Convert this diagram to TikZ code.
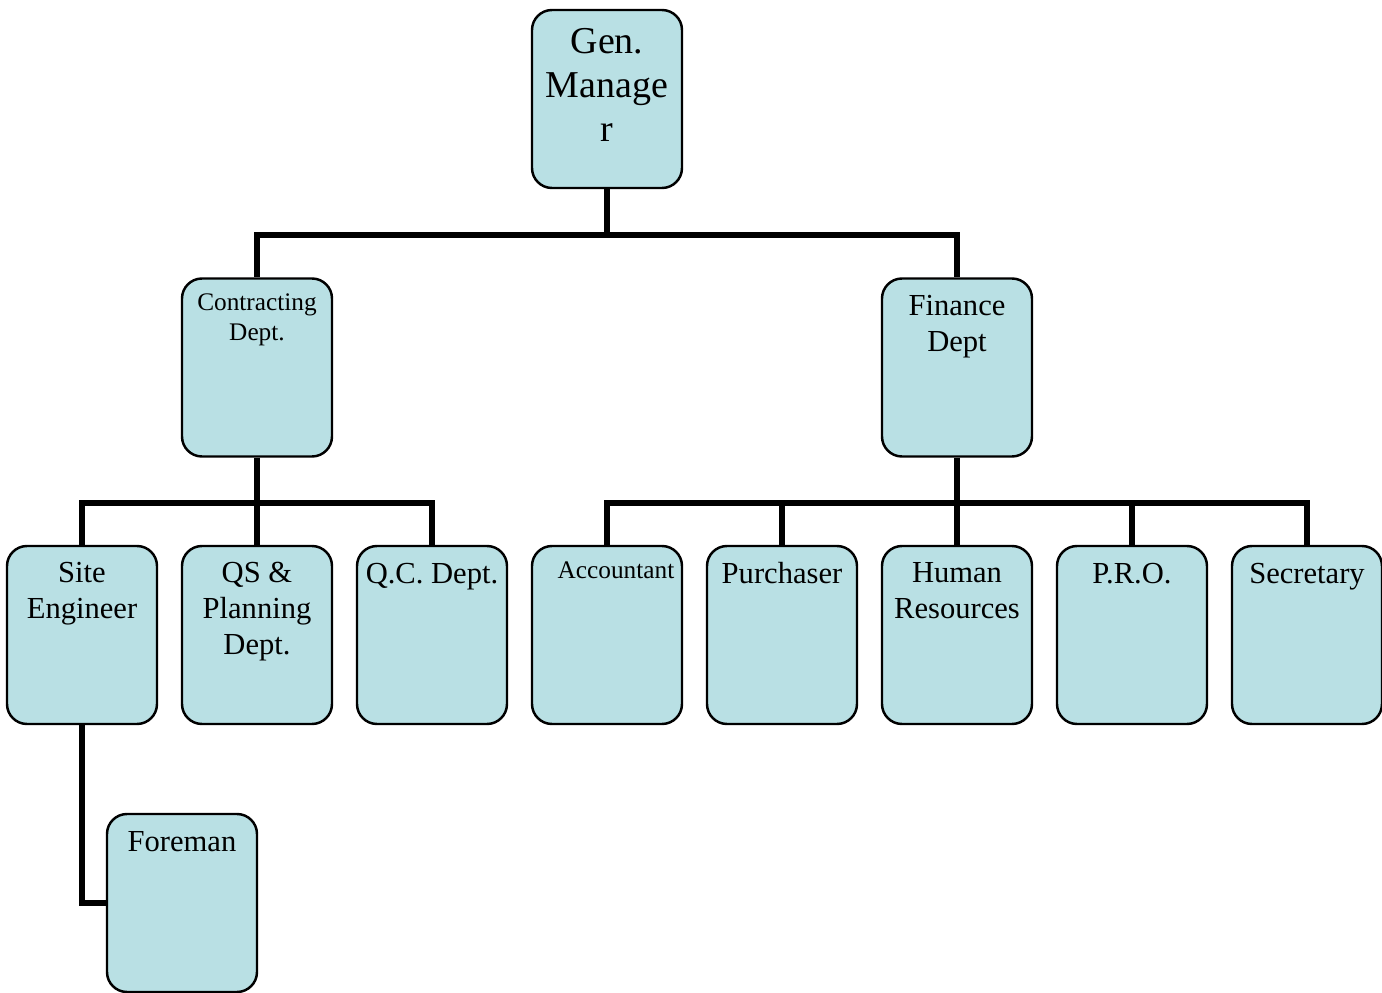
\documentclass[tikz,border=0pt]{standalone}
\usepackage{fontspec}
\setmainfont{Liberation Serif}
\usetikzlibrary{calc}

\definecolor{boxfill}{RGB}{185,224,228}

\begin{document}
\begin{tikzpicture}[
    unit/.style={draw,fill=boxfill,line width=0.7pt,rounded corners=2mm,
                 minimum width=1.5cm,minimum height=1.78cm,inner sep=0pt},
    caption/.style={anchor=north,align=center,inner sep=0pt},
    link/.style={line width=1.7pt},
    bigfont/.style={font=\fontsize{10.8}{12.5}\selectfont},
    midfont/.style={font=\fontsize{8.7}{10.2}\selectfont},
    smallfont/.style={font=\fontsize{7.2}{8.5}\selectfont}
]

% === Page frame ===
\useasboundingbox (0,0) rectangle (13.82,9.92);

% === Bus points ===
\coordinate (gmbus) at (6.07,7.57);
\coordinate (conbus) at (2.57,4.89);
\coordinate (finbus) at (9.57,4.89);

% === Boxes ===
\node[unit] (gm) at (6.07,8.93) {};
\node[unit] (con) at (2.57,6.245) {};
\node[unit] (fin) at (9.57,6.245) {};

% Contracting branch
\node[unit] (site) at (0.82,3.57) {};
\node[unit] (qs) at (2.57,3.57) {};
\node[unit] (qc) at (4.32,3.57) {};
\node[unit] (fore) at (1.82,0.89) {};

% Finance branch
\node[unit] (acc) at (6.07,3.57) {};
\node[unit] (pur) at (7.82,3.57) {};
\node[unit] (hr) at (9.57,3.57) {};
\node[unit] (pro) at (11.32,3.57) {};
\node[unit] (sec) at (13.07,3.57) {};

% === Lines ===
\draw[link] (gm.south) -- (gmbus) -| (con.north);
\draw[link] (gmbus) -| (fin.north);

\draw[link] (con.south) -- (conbus) -| (site.north);
\draw[link] (conbus) -- (qs.north);
\draw[link] (conbus) -| (qc.north);

\draw[link] (fin.south) -- (finbus) -| (acc.north);
\draw[link] (finbus) -| (pur.north);
\draw[link] (finbus) -- (hr.north);
\draw[link] (finbus) -| (pro.north);
\draw[link] (finbus) -| (sec.north);

\draw[link] (site.south) |- (fore.west);

% === Captions ===
\node[caption,bigfont] (gmt) at ([yshift=-0.19cm]gm.north) {Gen.\\Manage\\r};
\node[caption,smallfont] (cont) at ([yshift=-0.16cm]con.north) {Contracting\\Dept.};
\node[caption,midfont] (fint) at ([yshift=-0.17cm]fin.north) {Finance\\Dept};

\node[caption,midfont] (sitet) at ([yshift=-0.17cm]site.north) {Site\\Engineer};
\node[caption,midfont] (qst) at ([yshift=-0.17cm]qs.north) {QS \&\\Planning\\Dept.};
\node[caption,midfont] (qct) at ([yshift=-0.18cm]qc.north) {Q.C. Dept.};
\node[caption,midfont] (foret) at ([yshift=-0.18cm]fore.north) {Foreman};

\node[caption,smallfont] (acct) at ([xshift=0.09cm,yshift=-0.16cm]acc.north) {Accountant};
\node[caption,midfont] (purt) at ([yshift=-0.17cm]pur.north) {Purchaser};
\node[caption,midfont] (hrt) at ([yshift=-0.17cm]hr.north) {Human\\Resources};
\node[caption,midfont] (prot) at ([yshift=-0.18cm]pro.north) {P.R.O.};
\node[caption,midfont] (sect) at ([yshift=-0.18cm]sec.north) {Secretary};

\end{tikzpicture}
\end{document}
